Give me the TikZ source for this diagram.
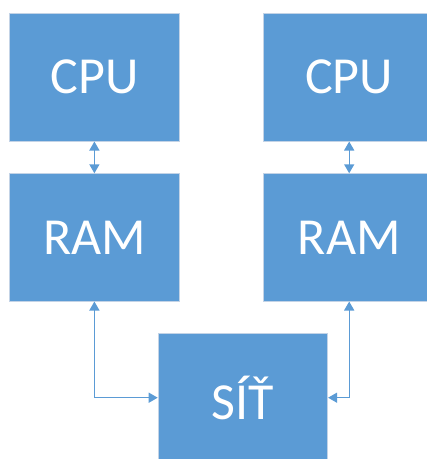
\documentclass[tikz,border=0pt]{standalone}
\usepackage{fontspec}
\setmainfont{Carlito}
\usetikzlibrary{arrows.meta}
\definecolor{boxblue}{HTML}{5B9BD5}
\definecolor{boxedge}{HTML}{C3D3E6}
\tikzset{
  unit/.style={rectangle, anchor=north west, inner sep=0pt, fill=boxblue,
    draw=boxedge, line width=0.8pt, text=white,
    font=\fontsize{52}{60}\selectfont},
  link/.style={draw=boxblue, line width=1.4pt,
    {Triangle[length=9pt,width=10pt]}-{Triangle[length=9pt,width=10pt]}}
}
\begin{document}
\begin{tikzpicture}[x=1pt,y=-1pt]
  \useasboundingbox (0,0) rectangle (427,459);
  \begin{scope}
    \clip (0,0) rectangle (427,459);
    % two computers, each a CPU above its RAM
    \node[unit, minimum width=170pt, minimum height=128pt] (cpuL) at (9,12.7) {CPU};
    \node[unit, minimum width=170pt, minimum height=127.4pt] (ramL) at (9,173.3) {RAM};
    \node[unit, minimum width=171pt, minimum height=128pt] (cpuR) at (263.3,12.7) {CPU};
    \node[unit, minimum width=171pt, minimum height=127.4pt] (ramR) at (263.3,173.3) {RAM};
    % shared network
    \node[unit, minimum width=169.6pt, minimum height=128pt] (net) at (157.7,333.3) {SÍŤ};
  \end{scope}
  % connections
  \draw[link] (cpuL.south) -- (ramL.north);
  \draw[link] (cpuR.south) -- (ramR.north);
  \draw[link] (ramL.south) |- (net.west);
  \draw[link] (ramR.south) |- (net.east);
\end{tikzpicture}
\end{document}
